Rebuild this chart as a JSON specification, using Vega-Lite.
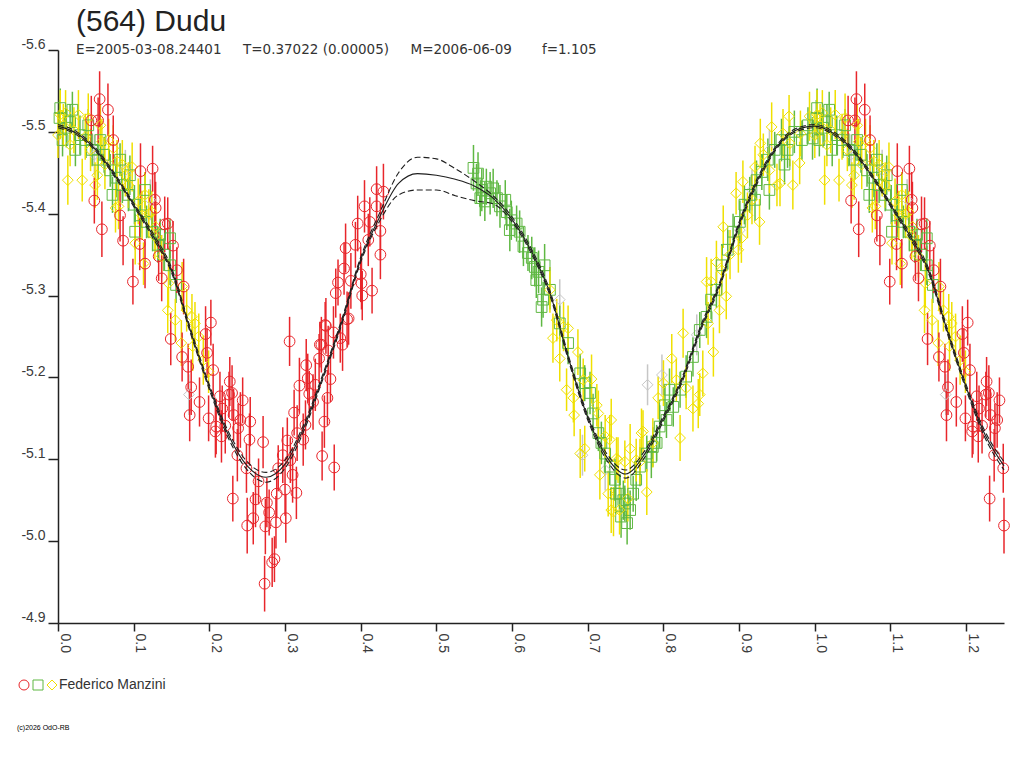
{
  "$schema": "https://vega.github.io/schema/vega-lite/v6.json",
  "width": 946,
  "height": 573,
  "autosize": "none",
  "padding": {"left": 58, "top": 50, "right": 20, "bottom": 145},
  "background": "white",
  "title": {
    "text": "(564) Dudu",
    "subtitle": "E=2005-03-08.24401\u00a0\u00a0\u00a0\u00a0 T=0.37022 (0.00005)\u00a0\u00a0\u00a0\u00a0 M=2006-06-09\u00a0\u00a0\u00a0\u00a0\u00a0\u00a0 f=1.105",
    "anchor": "start",
    "frame": "group",
    "dx": 18,
    "offset": -19,
    "font": "Liberation Sans",
    "fontSize": 30,
    "fontWeight": "normal",
    "color": "#222222",
    "subtitleFont": "DejaVu Sans",
    "subtitleFontSize": 13.5,
    "subtitleColor": "#333333",
    "subtitlePadding": 6
  },
  "config": {
    "view": {"stroke": null},
    "axis": {
      "labelFont": "Liberation Sans",
      "labelFontSize": 14,
      "labelColor": "#3a3a3a",
      "domainColor": "#222222",
      "domainWidth": 1.5,
      "tickColor": "#222222",
      "tickWidth": 1.5,
      "grid": false
    },
    "legend": {
      "labelFont": "Liberation Sans",
      "titleFont": "Liberation Sans"
    }
  },
  "datasets": {
    "pts": [
      {"s":"k","p":0.663,"m":-5.295,"e":0.025},
      {"s":"k","p":0.693,"m":-5.105,"e":0.025},
      {"s":"k","p":0.723,"m":-5.087,"e":0.025},
      {"s":"k","p":0.779,"m":-5.191,"e":0.025},
      {"s":"k","p":0.798,"m":-5.203,"e":0.025},
      {"s":"k","p":0.844,"m":-5.252,"e":0.025},
      {"s":"k","p":0.901,"m":-5.380,"e":0.025},
      {"s":"k","p":0.917,"m":-5.429,"e":0.025},
      {"s":"k","p":0.940,"m":-5.478,"e":0.025},
      {"s":"k","p":0.048,"m":-5.472,"e":0.025,"p2":1.048},
      {"s":"k","p":0.089,"m":-5.453,"e":0.025,"p2":1.089},
      {"s":"k","p":0.122,"m":-5.417,"e":0.025,"p2":1.122},
      {"s":"k","p":0.173,"m":-5.179,"e":0.025,"p2":1.173},

      {"s":"g","p":0.002,"m":-5.517,"e":0.022,"p2":1.002},
      {"s":"g","p":0.006,"m":-5.490,"e":0.020,"p2":1.006},
      {"s":"g","p":0.011,"m":-5.505,"e":0.024,"p2":1.011},
      {"s":"g","p":0.016,"m":-5.512,"e":0.022,"p2":1.016},
      {"s":"g","p":0.023,"m":-5.478,"e":0.020,"p2":1.023},
      {"s":"g","p":0.029,"m":-5.496,"e":0.024,"p2":1.029},
      {"s":"g","p":0.037,"m":-5.490,"e":0.022,"p2":1.037},
      {"s":"g","p":0.045,"m":-5.478,"e":0.020,"p2":1.045},
      {"s":"g","p":0.053,"m":-5.466,"e":0.024,"p2":1.053},
      {"s":"g","p":0.061,"m":-5.472,"e":0.022,"p2":1.061},
      {"s":"g","p":0.069,"m":-5.453,"e":0.020,"p2":1.069},
      {"s":"g","p":0.077,"m":-5.444,"e":0.024,"p2":1.077},
      {"s":"g","p":0.085,"m":-5.435,"e":0.022,"p2":1.085},
      {"s":"g","p":0.093,"m":-5.423,"e":0.020,"p2":1.093},
      {"s":"g","p":0.101,"m":-5.411,"e":0.024,"p2":1.101},
      {"s":"g","p":0.109,"m":-5.398,"e":0.022,"p2":1.109},
      {"s":"g","p":0.117,"m":-5.390,"e":0.020,"p2":1.117},
      {"s":"g","p":0.125,"m":-5.378,"e":0.024,"p2":1.125},
      {"s":"g","p":0.132,"m":-5.362,"e":0.022,"p2":1.132},
      {"s":"g","p":0.140,"m":-5.350,"e":0.020,"p2":1.140},
      {"s":"g","p":0.148,"m":-5.337,"e":0.024,"p2":1.148},
      {"s":"g","p":0.156,"m":-5.313,"e":0.022,"p2":1.156},
      {"s":"g","p":0.003,"m":-5.529,"e":0.024,"p2":1.003},
      {"s":"g","p":0.019,"m":-5.527,"e":0.022,"p2":1.019},
      {"s":"g","p":0.040,"m":-5.508,"e":0.020,"p2":1.040},
      {"s":"g","p":0.056,"m":-5.490,"e":0.024,"p2":1.056},
      {"s":"g","p":0.072,"m":-5.423,"e":0.022,"p2":1.072},
      {"s":"g","p":0.082,"m":-5.466,"e":0.020,"p2":1.082},
      {"s":"g","p":0.095,"m":-5.447,"e":0.024,"p2":1.095},
      {"s":"g","p":0.115,"m":-5.429,"e":0.022,"p2":1.115},
      {"s":"g","p":0.135,"m":-5.374,"e":0.020,"p2":1.135},
      {"s":"g","p":0.148,"m":-5.370,"e":0.024,"p2":1.148},
      {"s":"g","p":0.102,"m":-5.378,"e":0.022,"p2":1.102},
      {"s":"g","p":0.549,"m":-5.456,"e":0.028},
      {"s":"g","p":0.553,"m":-5.437,"e":0.024},
      {"s":"g","p":0.555,"m":-5.449,"e":0.026},
      {"s":"g","p":0.558,"m":-5.419,"e":0.022},
      {"s":"g","p":0.560,"m":-5.429,"e":0.026},
      {"s":"g","p":0.564,"m":-5.415,"e":0.024},
      {"s":"g","p":0.566,"m":-5.433,"e":0.022},
      {"s":"g","p":0.571,"m":-5.425,"e":0.026},
      {"s":"g","p":0.575,"m":-5.431,"e":0.024},
      {"s":"g","p":0.580,"m":-5.419,"e":0.022},
      {"s":"g","p":0.584,"m":-5.409,"e":0.026},
      {"s":"g","p":0.591,"m":-5.417,"e":0.024},
      {"s":"g","p":0.593,"m":-5.402,"e":0.022},
      {"s":"g","p":0.597,"m":-5.380,"e":0.026},
      {"s":"g","p":0.599,"m":-5.392,"e":0.024},
      {"s":"g","p":0.606,"m":-5.388,"e":0.022},
      {"s":"g","p":0.610,"m":-5.378,"e":0.026},
      {"s":"g","p":0.615,"m":-5.360,"e":0.024},
      {"s":"g","p":0.621,"m":-5.352,"e":0.022},
      {"s":"g","p":0.626,"m":-5.346,"e":0.026},
      {"s":"g","p":0.630,"m":-5.335,"e":0.024},
      {"s":"g","p":0.632,"m":-5.319,"e":0.022},
      {"s":"g","p":0.635,"m":-5.329,"e":0.026},
      {"s":"g","p":0.639,"m":-5.286,"e":0.024},
      {"s":"g","p":0.641,"m":-5.295,"e":0.022},
      {"s":"g","p":0.643,"m":-5.337,"e":0.026},
      {"s":"g","p":0.650,"m":-5.307,"e":0.024},
      {"s":"g","p":0.663,"m":-5.266,"e":0.022},
      {"s":"g","p":0.674,"m":-5.242,"e":0.026},
      {"s":"g","p":0.690,"m":-5.205,"e":0.024},
      {"s":"g","p":0.696,"m":-5.193,"e":0.022},
      {"s":"g","p":0.703,"m":-5.181,"e":0.026},
      {"s":"g","p":0.707,"m":-5.156,"e":0.024},
      {"s":"g","p":0.714,"m":-5.132,"e":0.022},
      {"s":"g","p":0.718,"m":-5.120,"e":0.026},
      {"s":"g","p":0.723,"m":-5.107,"e":0.024},
      {"s":"g","p":0.729,"m":-5.091,"e":0.022},
      {"s":"g","p":0.736,"m":-5.075,"e":0.026},
      {"s":"g","p":0.737,"m":-5.058,"e":0.024},
      {"s":"g","p":0.742,"m":-5.058,"e":0.022},
      {"s":"g","p":0.744,"m":-5.030,"e":0.026},
      {"s":"g","p":0.747,"m":-5.050,"e":0.024},
      {"s":"g","p":0.749,"m":-5.046,"e":0.022},
      {"s":"g","p":0.752,"m":-5.022,"e":0.026},
      {"s":"g","p":0.756,"m":-5.038,"e":0.024},
      {"s":"g","p":0.760,"m":-5.058,"e":0.022},
      {"s":"g","p":0.764,"m":-5.075,"e":0.026},
      {"s":"g","p":0.769,"m":-5.091,"e":0.024},
      {"s":"g","p":0.778,"m":-5.107,"e":0.022},
      {"s":"g","p":0.784,"m":-5.103,"e":0.026},
      {"s":"g","p":0.786,"m":-5.115,"e":0.024},
      {"s":"g","p":0.791,"m":-5.120,"e":0.022},
      {"s":"g","p":0.795,"m":-5.140,"e":0.026},
      {"s":"g","p":0.802,"m":-5.166,"e":0.024},
      {"s":"g","p":0.804,"m":-5.148,"e":0.022},
      {"s":"g","p":0.808,"m":-5.185,"e":0.026},
      {"s":"g","p":0.813,"m":-5.164,"e":0.024},
      {"s":"g","p":0.822,"m":-5.185,"e":0.022},
      {"s":"g","p":0.830,"m":-5.201,"e":0.026},
      {"s":"g","p":0.839,"m":-5.225,"e":0.024},
      {"s":"g","p":0.848,"m":-5.258,"e":0.022},
      {"s":"g","p":0.857,"m":-5.274,"e":0.026},
      {"s":"g","p":0.863,"m":-5.295,"e":0.024},
      {"s":"g","p":0.870,"m":-5.307,"e":0.022},
      {"s":"g","p":0.877,"m":-5.337,"e":0.026},
      {"s":"g","p":0.885,"m":-5.356,"e":0.024},
      {"s":"g","p":0.892,"m":-5.378,"e":0.022},
      {"s":"g","p":0.901,"m":-5.390,"e":0.026},
      {"s":"g","p":0.907,"m":-5.411,"e":0.024},
      {"s":"g","p":0.914,"m":-5.423,"e":0.022},
      {"s":"g","p":0.921,"m":-5.417,"e":0.026},
      {"s":"g","p":0.923,"m":-5.441,"e":0.024},
      {"s":"g","p":0.930,"m":-5.451,"e":0.022},
      {"s":"g","p":0.938,"m":-5.466,"e":0.026},
      {"s":"g","p":0.940,"m":-5.429,"e":0.024},
      {"s":"g","p":0.947,"m":-5.478,"e":0.022},
      {"s":"g","p":0.956,"m":-5.490,"e":0.026},
      {"s":"g","p":0.960,"m":-5.460,"e":0.024},
      {"s":"g","p":0.964,"m":-5.478,"e":0.022},
      {"s":"g","p":0.973,"m":-5.500,"e":0.026},
      {"s":"g","p":0.983,"m":-5.490,"e":0.024},
      {"s":"g","p":0.991,"m":-5.508,"e":0.022},
      {"s":"g","p":0.997,"m":-5.492,"e":0.026},

      {"s":"y","p":0.000,"m":-5.496,"e":0.028,"p2":1.000},
      {"s":"y","p":0.003,"m":-5.521,"e":0.030,"p2":1.003},
      {"s":"y","p":0.007,"m":-5.508,"e":0.026,"p2":1.007},
      {"s":"y","p":0.010,"m":-5.523,"e":0.028,"p2":1.010},
      {"s":"y","p":0.013,"m":-5.441,"e":0.030,"p2":1.013},
      {"s":"y","p":0.016,"m":-5.484,"e":0.026,"p2":1.016},
      {"s":"y","p":0.021,"m":-5.502,"e":0.028,"p2":1.021},
      {"s":"y","p":0.027,"m":-5.521,"e":0.030,"p2":1.027},
      {"s":"y","p":0.032,"m":-5.441,"e":0.026,"p2":1.032},
      {"s":"y","p":0.036,"m":-5.494,"e":0.028,"p2":1.036},
      {"s":"y","p":0.040,"m":-5.517,"e":0.030,"p2":1.040},
      {"s":"y","p":0.043,"m":-5.478,"e":0.026,"p2":1.043},
      {"s":"y","p":0.049,"m":-5.435,"e":0.028,"p2":1.049},
      {"s":"y","p":0.052,"m":-5.447,"e":0.030,"p2":1.052},
      {"s":"y","p":0.056,"m":-5.508,"e":0.026,"p2":1.056},
      {"s":"y","p":0.058,"m":-5.488,"e":0.028,"p2":1.058},
      {"s":"y","p":0.062,"m":-5.460,"e":0.030,"p2":1.062},
      {"s":"y","p":0.067,"m":-5.490,"e":0.026,"p2":1.067},
      {"s":"y","p":0.073,"m":-5.480,"e":0.028,"p2":1.073},
      {"s":"y","p":0.076,"m":-5.407,"e":0.030,"p2":1.076},
      {"s":"y","p":0.078,"m":-5.464,"e":0.026,"p2":1.078},
      {"s":"y","p":0.080,"m":-5.409,"e":0.028,"p2":1.080},
      {"s":"y","p":0.085,"m":-5.460,"e":0.030,"p2":1.085},
      {"s":"y","p":0.089,"m":-5.447,"e":0.026,"p2":1.089},
      {"s":"y","p":0.093,"m":-5.435,"e":0.028,"p2":1.093},
      {"s":"y","p":0.098,"m":-5.457,"e":0.030,"p2":1.098},
      {"s":"y","p":0.102,"m":-5.364,"e":0.026,"p2":1.102},
      {"s":"y","p":0.106,"m":-5.415,"e":0.028,"p2":1.106},
      {"s":"y","p":0.111,"m":-5.398,"e":0.030,"p2":1.111},
      {"s":"y","p":0.113,"m":-5.339,"e":0.026,"p2":1.113},
      {"s":"y","p":0.115,"m":-5.423,"e":0.028,"p2":1.115},
      {"s":"y","p":0.120,"m":-5.400,"e":0.030,"p2":1.120},
      {"s":"y","p":0.124,"m":-5.402,"e":0.026,"p2":1.124},
      {"s":"y","p":0.128,"m":-5.372,"e":0.028,"p2":1.128},
      {"s":"y","p":0.129,"m":-5.384,"e":0.030,"p2":1.129},
      {"s":"y","p":0.137,"m":-5.348,"e":0.026,"p2":1.137},
      {"s":"y","p":0.145,"m":-5.282,"e":0.028,"p2":1.145},
      {"s":"y","p":0.146,"m":-5.315,"e":0.030,"p2":1.146},
      {"s":"y","p":0.155,"m":-5.270,"e":0.026,"p2":1.155},
      {"s":"y","p":0.163,"m":-5.242,"e":0.028,"p2":1.163},
      {"s":"y","p":0.164,"m":-5.311,"e":0.030,"p2":1.164},
      {"s":"y","p":0.170,"m":-5.282,"e":0.026,"p2":1.170},
      {"s":"y","p":0.177,"m":-5.274,"e":0.028,"p2":1.177},
      {"s":"y","p":0.178,"m":-5.238,"e":0.030,"p2":1.178},
      {"s":"y","p":0.181,"m":-5.266,"e":0.026,"p2":1.181},
      {"s":"y","p":0.186,"m":-5.250,"e":0.028,"p2":1.186},
      {"s":"y","p":0.192,"m":-5.221,"e":0.030,"p2":1.192},
      {"s":"y","p":0.199,"m":-5.207,"e":0.026,"p2":1.199},
      {"s":"y","p":0.650,"m":-5.307,"e":0.028},
      {"s":"y","p":0.654,"m":-5.248,"e":0.030},
      {"s":"y","p":0.659,"m":-5.270,"e":0.026},
      {"s":"y","p":0.663,"m":-5.223,"e":0.028},
      {"s":"y","p":0.668,"m":-5.262,"e":0.030},
      {"s":"y","p":0.672,"m":-5.185,"e":0.026},
      {"s":"y","p":0.674,"m":-5.260,"e":0.028},
      {"s":"y","p":0.681,"m":-5.175,"e":0.030},
      {"s":"y","p":0.682,"m":-5.154,"e":0.026},
      {"s":"y","p":0.687,"m":-5.231,"e":0.028},
      {"s":"y","p":0.690,"m":-5.107,"e":0.030},
      {"s":"y","p":0.694,"m":-5.197,"e":0.026},
      {"s":"y","p":0.696,"m":-5.113,"e":0.028},
      {"s":"y","p":0.705,"m":-5.198,"e":0.030},
      {"s":"y","p":0.712,"m":-5.166,"e":0.026},
      {"s":"y","p":0.714,"m":-5.156,"e":0.028},
      {"s":"y","p":0.716,"m":-5.081,"e":0.030},
      {"s":"y","p":0.723,"m":-5.128,"e":0.026},
      {"s":"y","p":0.727,"m":-5.058,"e":0.028},
      {"s":"y","p":0.729,"m":-5.124,"e":0.030},
      {"s":"y","p":0.731,"m":-5.148,"e":0.026},
      {"s":"y","p":0.731,"m":-5.038,"e":0.028},
      {"s":"y","p":0.734,"m":-5.036,"e":0.030},
      {"s":"y","p":0.738,"m":-5.101,"e":0.026},
      {"s":"y","p":0.740,"m":-5.099,"e":0.028},
      {"s":"y","p":0.742,"m":-5.038,"e":0.030},
      {"s":"y","p":0.749,"m":-5.097,"e":0.026},
      {"s":"y","p":0.753,"m":-5.052,"e":0.028},
      {"s":"y","p":0.756,"m":-5.113,"e":0.030},
      {"s":"y","p":0.764,"m":-5.099,"e":0.026},
      {"s":"y","p":0.769,"m":-5.097,"e":0.028},
      {"s":"y","p":0.771,"m":-5.132,"e":0.030},
      {"s":"y","p":0.773,"m":-5.134,"e":0.026},
      {"s":"y","p":0.778,"m":-5.060,"e":0.028},
      {"s":"y","p":0.786,"m":-5.120,"e":0.030},
      {"s":"y","p":0.793,"m":-5.175,"e":0.026},
      {"s":"y","p":0.800,"m":-5.193,"e":0.028},
      {"s":"y","p":0.811,"m":-5.223,"e":0.030},
      {"s":"y","p":0.817,"m":-5.197,"e":0.026},
      {"s":"y","p":0.822,"m":-5.126,"e":0.028},
      {"s":"y","p":0.826,"m":-5.254,"e":0.030},
      {"s":"y","p":0.830,"m":-5.187,"e":0.026},
      {"s":"y","p":0.839,"m":-5.162,"e":0.028},
      {"s":"y","p":0.846,"m":-5.168,"e":0.030},
      {"s":"y","p":0.848,"m":-5.179,"e":0.026},
      {"s":"y","p":0.852,"m":-5.205,"e":0.028},
      {"s":"y","p":0.857,"m":-5.317,"e":0.030},
      {"s":"y","p":0.859,"m":-5.266,"e":0.026},
      {"s":"y","p":0.863,"m":-5.317,"e":0.028},
      {"s":"y","p":0.866,"m":-5.231,"e":0.030},
      {"s":"y","p":0.870,"m":-5.341,"e":0.026},
      {"s":"y","p":0.874,"m":-5.282,"e":0.028},
      {"s":"y","p":0.877,"m":-5.331,"e":0.030},
      {"s":"y","p":0.879,"m":-5.384,"e":0.026},
      {"s":"y","p":0.883,"m":-5.299,"e":0.028},
      {"s":"y","p":0.888,"m":-5.350,"e":0.030},
      {"s":"y","p":0.896,"m":-5.425,"e":0.026},
      {"s":"y","p":0.899,"m":-5.356,"e":0.028},
      {"s":"y","p":0.903,"m":-5.370,"e":0.030},
      {"s":"y","p":0.905,"m":-5.439,"e":0.026},
      {"s":"y","p":0.911,"m":-5.398,"e":0.028},
      {"s":"y","p":0.917,"m":-5.417,"e":0.030},
      {"s":"y","p":0.921,"m":-5.457,"e":0.026},
      {"s":"y","p":0.927,"m":-5.390,"e":0.028},
      {"s":"y","p":0.928,"m":-5.486,"e":0.030},
      {"s":"y","p":0.932,"m":-5.472,"e":0.026},
      {"s":"y","p":0.940,"m":-5.453,"e":0.028},
      {"s":"y","p":0.943,"m":-5.506,"e":0.030},
      {"s":"y","p":0.950,"m":-5.435,"e":0.026},
      {"s":"y","p":0.954,"m":-5.437,"e":0.028},
      {"s":"y","p":0.958,"m":-5.498,"e":0.030},
      {"s":"y","p":0.966,"m":-5.519,"e":0.026},
      {"s":"y","p":0.967,"m":-5.486,"e":0.028},
      {"s":"y","p":0.971,"m":-5.435,"e":0.030},
      {"s":"y","p":0.980,"m":-5.462,"e":0.026},
      {"s":"y","p":0.981,"m":-5.498,"e":0.028},
      {"s":"y","p":0.993,"m":-5.519,"e":0.030},

      {"s":"r","p":0.044,"m":-5.514,"e":0.030,"p2":1.044},
      {"s":"r","p":0.053,"m":-5.514,"e":0.028,"p2":1.053},
      {"s":"r","p":0.055,"m":-5.540,"e":0.034,"p2":1.055},
      {"s":"r","p":0.066,"m":-5.527,"e":0.032,"p2":1.066},
      {"s":"r","p":0.073,"m":-5.490,"e":0.030,"p2":1.073},
      {"s":"r","p":0.048,"m":-5.416,"e":0.028,"p2":1.048},
      {"s":"r","p":0.058,"m":-5.381,"e":0.034,"p2":1.058},
      {"s":"r","p":0.082,"m":-5.398,"e":0.032,"p2":1.082},
      {"s":"r","p":0.086,"m":-5.367,"e":0.030,"p2":1.086},
      {"s":"r","p":0.099,"m":-5.317,"e":0.028,"p2":1.099},
      {"s":"r","p":0.109,"m":-5.452,"e":0.034,"p2":1.109},
      {"s":"r","p":0.108,"m":-5.363,"e":0.032,"p2":1.108},
      {"s":"r","p":0.115,"m":-5.339,"e":0.030,"p2":1.115},
      {"s":"r","p":0.125,"m":-5.455,"e":0.028,"p2":1.125},
      {"s":"r","p":0.128,"m":-5.417,"e":0.034,"p2":1.128},
      {"s":"r","p":0.129,"m":-5.407,"e":0.032,"p2":1.129},
      {"s":"r","p":0.133,"m":-5.348,"e":0.030,"p2":1.133},
      {"s":"r","p":0.137,"m":-5.321,"e":0.028,"p2":1.137},
      {"s":"r","p":0.141,"m":-5.387,"e":0.034,"p2":1.141},
      {"s":"r","p":0.145,"m":-5.388,"e":0.032,"p2":1.145},
      {"s":"r","p":0.152,"m":-5.361,"e":0.030,"p2":1.152},
      {"s":"r","p":0.157,"m":-5.331,"e":0.028,"p2":1.157},
      {"s":"r","p":0.166,"m":-5.311,"e":0.034,"p2":1.166},
      {"s":"r","p":0.149,"m":-5.247,"e":0.032,"p2":1.149},
      {"s":"r","p":0.164,"m":-5.225,"e":0.030,"p2":1.164},
      {"s":"r","p":0.172,"m":-5.213,"e":0.028,"p2":1.172},
      {"s":"r","p":0.176,"m":-5.188,"e":0.034,"p2":1.176},
      {"s":"r","p":0.174,"m":-5.154,"e":0.032,"p2":1.174},
      {"s":"r","p":0.187,"m":-5.170,"e":0.030,"p2":1.187},
      {"s":"r","p":0.202,"m":-5.267,"e":0.028,"p2":1.202},
      {"s":"r","p":0.195,"m":-5.253,"e":0.034,"p2":1.195},
      {"s":"r","p":0.205,"m":-5.209,"e":0.032,"p2":1.205},
      {"s":"r","p":0.197,"m":-5.230,"e":0.030,"p2":1.197},
      {"s":"r","p":0.199,"m":-5.150,"e":0.028,"p2":1.199},
      {"s":"r","p":0.209,"m":-5.140,"e":0.034,"p2":1.209},
      {"s":"r","p":0.208,"m":-5.134,"e":0.032,"p2":1.208},
      {"s":"r","p":0.214,"m":-5.177,"e":0.030,"p2":1.214},
      {"s":"r","p":0.217,"m":-5.162,"e":0.028,"p2":1.217},
      {"s":"r","p":0.221,"m":-5.141,"e":0.034,"p2":1.221},
      {"s":"r","p":0.216,"m":-5.128,"e":0.032,"p2":1.216},
      {"s":"r","p":0.227,"m":-5.195,"e":0.030,"p2":1.227},
      {"s":"r","p":0.226,"m":-5.179,"e":0.028,"p2":1.226},
      {"s":"r","p":0.230,"m":-5.181,"e":0.034,"p2":1.230},
      {"s":"r","p":0.232,"m":-5.154,"e":0.032,"p2":1.232},
      {"s":"r","p":0.238,"m":-5.138,"e":0.030,"p2":1.238},
      {"s":"r","p":0.244,"m":-5.172,"e":0.028,"p2":1.244},
      {"s":"r","p":0.241,"m":-5.148,"e":0.034,"p2":1.241},
      {"s":"r","p":0.237,"m":-5.105,"e":0.032,"p2":1.237},
      {"s":"r","p":0.249,"m":-5.089,"e":0.030,"p2":1.249},
      {"s":"r","p":0.231,"m":-5.052,"e":0.028,"p2":1.231},
      {"s":"r","p":0.250,"m":-5.019,"e":0.034,"p2":1.250},
      {"s":"r","p":0.253,"m":-5.124,"e":0.032},
      {"s":"r","p":0.254,"m":-5.146,"e":0.030},
      {"s":"r","p":0.265,"m":-5.073,"e":0.028},
      {"s":"r","p":0.261,"m":-5.051,"e":0.034},
      {"s":"r","p":0.258,"m":-5.028,"e":0.032},
      {"s":"r","p":0.276,"m":-5.047,"e":0.030},
      {"s":"r","p":0.279,"m":-5.035,"e":0.028},
      {"s":"r","p":0.274,"m":-5.018,"e":0.034},
      {"s":"r","p":0.288,"m":-5.023,"e":0.032},
      {"s":"r","p":0.283,"m":-4.974,"e":0.030},
      {"s":"r","p":0.286,"m":-4.978,"e":0.028},
      {"s":"r","p":0.273,"m":-4.948,"e":0.034},
      {"s":"r","p":0.271,"m":-5.121,"e":0.032},
      {"s":"r","p":0.289,"m":-5.058,"e":0.030},
      {"s":"r","p":0.291,"m":-5.089,"e":0.028},
      {"s":"r","p":0.297,"m":-5.105,"e":0.034},
      {"s":"r","p":0.300,"m":-5.063,"e":0.032},
      {"s":"r","p":0.301,"m":-5.028,"e":0.030},
      {"s":"r","p":0.307,"m":-5.099,"e":0.028},
      {"s":"r","p":0.310,"m":-5.081,"e":0.034},
      {"s":"r","p":0.315,"m":-5.059,"e":0.032},
      {"s":"r","p":0.306,"m":-5.244,"e":0.030},
      {"s":"r","p":0.303,"m":-5.123,"e":0.028},
      {"s":"r","p":0.316,"m":-5.132,"e":0.034},
      {"s":"r","p":0.324,"m":-5.124,"e":0.032},
      {"s":"r","p":0.327,"m":-5.142,"e":0.030},
      {"s":"r","p":0.312,"m":-5.157,"e":0.028},
      {"s":"r","p":0.319,"m":-5.190,"e":0.034},
      {"s":"r","p":0.328,"m":-5.215,"e":0.032},
      {"s":"r","p":0.330,"m":-5.199,"e":0.030},
      {"s":"r","p":0.332,"m":-5.180,"e":0.028},
      {"s":"r","p":0.337,"m":-5.170,"e":0.034},
      {"s":"r","p":0.340,"m":-5.191,"e":0.032},
      {"s":"r","p":0.345,"m":-5.223,"e":0.030},
      {"s":"r","p":0.346,"m":-5.240,"e":0.028},
      {"s":"r","p":0.354,"m":-5.263,"e":0.034},
      {"s":"r","p":0.364,"m":-5.255,"e":0.032},
      {"s":"r","p":0.357,"m":-5.233,"e":0.030},
      {"s":"r","p":0.360,"m":-5.198,"e":0.028},
      {"s":"r","p":0.356,"m":-5.175,"e":0.034},
      {"s":"r","p":0.352,"m":-5.146,"e":0.032},
      {"s":"r","p":0.349,"m":-5.104,"e":0.030},
      {"s":"r","p":0.365,"m":-5.090,"e":0.028},
      {"s":"r","p":0.382,"m":-5.271,"e":0.034},
      {"s":"r","p":0.376,"m":-5.240,"e":0.032},
      {"s":"r","p":0.373,"m":-5.248,"e":0.030},
      {"s":"r","p":0.353,"m":-5.264,"e":0.028},
      {"s":"r","p":0.348,"m":-5.240,"e":0.034},
      {"s":"r","p":0.384,"m":-5.272,"e":0.032},
      {"s":"r","p":0.367,"m":-5.303,"e":0.030},
      {"s":"r","p":0.370,"m":-5.316,"e":0.028},
      {"s":"r","p":0.387,"m":-5.318,"e":0.034},
      {"s":"r","p":0.378,"m":-5.333,"e":0.032},
      {"s":"r","p":0.380,"m":-5.358,"e":0.030},
      {"s":"r","p":0.393,"m":-5.362,"e":0.028},
      {"s":"r","p":0.400,"m":-5.326,"e":0.034},
      {"s":"r","p":0.401,"m":-5.315,"e":0.032},
      {"s":"r","p":0.402,"m":-5.300,"e":0.030},
      {"s":"r","p":0.415,"m":-5.306,"e":0.028},
      {"s":"r","p":0.396,"m":-5.388,"e":0.034},
      {"s":"r","p":0.405,"m":-5.409,"e":0.032},
      {"s":"r","p":0.412,"m":-5.390,"e":0.030},
      {"s":"r","p":0.421,"m":-5.409,"e":0.028},
      {"s":"r","p":0.426,"m":-5.379,"e":0.034},
      {"s":"r","p":0.410,"m":-5.368,"e":0.032},
      {"s":"r","p":0.426,"m":-5.350,"e":0.030},
      {"s":"r","p":0.421,"m":-5.430,"e":0.028},
      {"s":"r","p":0.430,"m":-5.427,"e":0.034}
    ],
    "fit": [
      {"p":0.000,"m":-5.507,"hi":-5.509,"lo":-5.505},
      {"p":0.025,"m":-5.498,"hi":-5.500,"lo":-5.496},
      {"p":0.050,"m":-5.478,"hi":-5.480,"lo":-5.476},
      {"p":0.075,"m":-5.447,"hi":-5.449,"lo":-5.445},
      {"p":0.100,"m":-5.411,"hi":-5.413,"lo":-5.409},
      {"p":0.125,"m":-5.374,"hi":-5.377,"lo":-5.371},
      {"p":0.150,"m":-5.331,"hi":-5.334,"lo":-5.328},
      {"p":0.175,"m":-5.257,"hi":-5.260,"lo":-5.254},
      {"p":0.200,"m":-5.188,"hi":-5.191,"lo":-5.185},
      {"p":0.225,"m":-5.130,"hi":-5.134,"lo":-5.126},
      {"p":0.250,"m":-5.092,"hi":-5.097,"lo":-5.087},
      {"p":0.275,"m":-5.078,"hi":-5.084,"lo":-5.072},
      {"p":0.300,"m":-5.094,"hi":-5.099,"lo":-5.089},
      {"p":0.325,"m":-5.139,"hi":-5.143,"lo":-5.135},
      {"p":0.350,"m":-5.201,"hi":-5.204,"lo":-5.198},
      {"p":0.375,"m":-5.268,"hi":-5.271,"lo":-5.265},
      {"p":0.400,"m":-5.344,"hi":-5.347,"lo":-5.341},
      {"p":0.425,"m":-5.396,"hi":-5.401,"lo":-5.391},
      {"p":0.450,"m":-5.437,"hi":-5.450,"lo":-5.423},
      {"p":0.475,"m":-5.449,"hi":-5.469,"lo":-5.429},
      {"p":0.500,"m":-5.447,"hi":-5.467,"lo":-5.429},
      {"p":0.525,"m":-5.442,"hi":-5.455,"lo":-5.422},
      {"p":0.550,"m":-5.434,"hi":-5.440,"lo":-5.416},
      {"p":0.575,"m":-5.419,"hi":-5.422,"lo":-5.412},
      {"p":0.600,"m":-5.393,"hi":-5.396,"lo":-5.390},
      {"p":0.625,"m":-5.355,"hi":-5.358,"lo":-5.352},
      {"p":0.650,"m":-5.303,"hi":-5.306,"lo":-5.300},
      {"p":0.675,"m":-5.222,"hi":-5.225,"lo":-5.219},
      {"p":0.700,"m":-5.151,"hi":-5.154,"lo":-5.148},
      {"p":0.725,"m":-5.103,"hi":-5.107,"lo":-5.099},
      {"p":0.750,"m":-5.082,"hi":-5.087,"lo":-5.077},
      {"p":0.775,"m":-5.106,"hi":-5.110,"lo":-5.102},
      {"p":0.800,"m":-5.150,"hi":-5.153,"lo":-5.147},
      {"p":0.825,"m":-5.198,"hi":-5.201,"lo":-5.195},
      {"p":0.850,"m":-5.262,"hi":-5.265,"lo":-5.259},
      {"p":0.875,"m":-5.315,"hi":-5.318,"lo":-5.312},
      {"p":0.900,"m":-5.387,"hi":-5.390,"lo":-5.384},
      {"p":0.925,"m":-5.442,"hi":-5.445,"lo":-5.439},
      {"p":0.950,"m":-5.482,"hi":-5.484,"lo":-5.480},
      {"p":0.975,"m":-5.502,"hi":-5.504,"lo":-5.500},
      {"p":1.000,"m":-5.507,"hi":-5.509,"lo":-5.505},
      {"p":1.025,"m":-5.498,"hi":-5.500,"lo":-5.496},
      {"p":1.050,"m":-5.478,"hi":-5.480,"lo":-5.476},
      {"p":1.075,"m":-5.447,"hi":-5.449,"lo":-5.445},
      {"p":1.100,"m":-5.411,"hi":-5.413,"lo":-5.409},
      {"p":1.125,"m":-5.374,"hi":-5.377,"lo":-5.371},
      {"p":1.150,"m":-5.331,"hi":-5.334,"lo":-5.328},
      {"p":1.175,"m":-5.257,"hi":-5.260,"lo":-5.254},
      {"p":1.200,"m":-5.188,"hi":-5.191,"lo":-5.185},
      {"p":1.225,"m":-5.130,"hi":-5.134,"lo":-5.126},
      {"p":1.250,"m":-5.092,"hi":-5.097,"lo":-5.087}
    ]
  },
  "layer": [
    {
      "data": {"name": "pts"},
      "mark": {"type": "errorbar", "thickness": 1.5},
      "encoding": {
        "x": {"field": "p", "type": "quantitative", "scale": {"domain": [0, 1.25], "nice": false, "zero": false}},
        "y": {"field": "m", "type": "quantitative", "scale": {"domain": [-5.6, -4.9], "reverse": true, "nice": false, "zero": false}},
        "yError": {"field": "e"},
        "color": {
          "field": "s", "type": "nominal",
          "scale": {"domain": ["k", "g", "y", "r"], "range": ["#c6c6c6", "#5fb843", "#f0e000", "#e8262b"]}
        }
      }
    },
    {
      "data": {"name": "pts"},
      "transform": [{"filter": "isValid(datum.p2)"}],
      "mark": {"type": "errorbar", "thickness": 1.5},
      "encoding": {
        "x": {"field": "p2", "type": "quantitative", "scale": {"domain": [0, 1.25], "nice": false, "zero": false}},
        "y": {"field": "m", "type": "quantitative", "scale": {"domain": [-5.6, -4.9], "reverse": true, "nice": false, "zero": false}},
        "yError": {"field": "e"},
        "color": {"field": "s", "type": "nominal"}
      }
    },
    {
      "data": {"name": "pts"},
      "mark": {"type": "point", "filled": false, "strokeWidth": 1, "size": 115, "opacity": 1},
      "encoding": {
        "x": {
          "field": "p", "type": "quantitative",
          "scale": {"domain": [0, 1.25], "nice": false, "zero": false},
          "axis": {
            "title": null,
            "values": [0, 0.05, 0.1, 0.15, 0.2, 0.25, 0.3, 0.35, 0.4, 0.45, 0.5, 0.55, 0.6, 0.65, 0.7, 0.75, 0.8, 0.85, 0.9, 0.95, 1.0, 1.05, 1.1, 1.15, 1.2, 1.25],
            "labelExpr": "round(datum.value * 100) % 10 == 0 ? format(datum.value, '.1f') : ''",
            "labelAngle": 90,
            "labelAlign": "left",
            "labelBaseline": "middle",
            "labelOffset": 6,
            "labelPadding": 2,
            "tickSize": 8,
            "labelFlush": false,
            "labelOverlap": false
          }
        },
        "y": {
          "field": "m", "type": "quantitative",
          "scale": {"domain": [-5.6, -4.9], "reverse": true, "nice": false, "zero": false},
          "axis": {
            "title": null,
            "values": [-5.6, -5.5, -5.4, -5.3, -5.2, -5.1, -5.0, -4.9],
            "labelExpr": "replace(format(datum.value, '.1f'), '\u2212', '-')",
            "tickSize": 10,
            "labelPadding": 3,
            "labelOffset": -6,
            "labelFlush": false,
            "labelOverlap": false
          }
        },
        "color": {
          "field": "s", "type": "nominal",
          "legend": {
            "values": ["r", "g", "y"],
            "orient": "none",
            "legendX": -41,
            "legendY": 628,
            "direction": "horizontal",
            "columns": 3,
            "gridAlign": "none",
            "padding": 0,
            "columnPadding": 0,
            "symbolSize": 100,
            "symbolStrokeWidth": 1,
            "labelOffset": 0,
            "labelFontSize": 14,
            "labelColor": "#333333",
            "labelExpr": "datum.value == 'y' ? '\u2003Federico Manzini' : ''",
            "title": "(c)2026 OdO-RB",
            "titleOrient": "bottom",
            "titleAnchor": "start",
            "titlePadding": 32,
            "titleFontSize": 7,
            "titleFontWeight": "normal",
            "titleColor": "#000000"
          }
        },
        "shape": {
          "field": "s", "type": "nominal",
          "scale": {"domain": ["k", "g", "y", "r"], "range": ["diamond", "square", "diamond", "circle"]}
        }
      }
    },
    {
      "data": {"name": "pts"},
      "transform": [{"filter": "isValid(datum.p2)"}],
      "mark": {"type": "point", "filled": false, "strokeWidth": 1, "size": 115, "opacity": 1},
      "encoding": {
        "x": {"field": "p2", "type": "quantitative", "scale": {"domain": [0, 1.25], "nice": false, "zero": false}},
        "y": {"field": "m", "type": "quantitative", "scale": {"domain": [-5.6, -4.9], "reverse": true, "nice": false, "zero": false}},
        "color": {"field": "s", "type": "nominal"},
        "shape": {"field": "s", "type": "nominal"}
      }
    },
    {
      "data": {"name": "fit"},
      "mark": {"type": "line", "interpolate": "monotone", "color": "#1e1e1e", "strokeWidth": 1.1},
      "encoding": {
        "x": {"field": "p", "type": "quantitative", "scale": {"domain": [0, 1.25], "nice": false, "zero": false}},
        "y": {"field": "m", "type": "quantitative", "scale": {"domain": [-5.6, -4.9], "reverse": true, "nice": false, "zero": false}}
      }
    },
    {
      "data": {"name": "fit"},
      "mark": {"type": "line", "interpolate": "monotone", "color": "#1e1e1e", "strokeWidth": 1.1, "strokeDash": [6, 3]},
      "encoding": {
        "x": {"field": "p", "type": "quantitative", "scale": {"domain": [0, 1.25], "nice": false, "zero": false}},
        "y": {"field": "hi", "type": "quantitative", "scale": {"domain": [-5.6, -4.9], "reverse": true, "nice": false, "zero": false}}
      }
    },
    {
      "data": {"name": "fit"},
      "mark": {"type": "line", "interpolate": "monotone", "color": "#1e1e1e", "strokeWidth": 1.1, "strokeDash": [6, 3]},
      "encoding": {
        "x": {"field": "p", "type": "quantitative", "scale": {"domain": [0, 1.25], "nice": false, "zero": false}},
        "y": {"field": "lo", "type": "quantitative", "scale": {"domain": [-5.6, -4.9], "reverse": true, "nice": false, "zero": false}}
      }
    }
  ]
}
